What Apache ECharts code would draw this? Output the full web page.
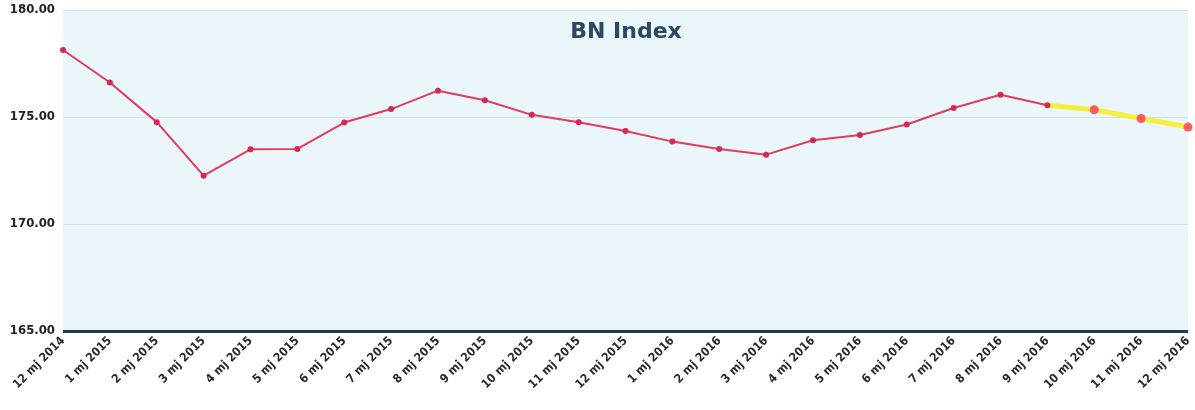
<!DOCTYPE html>
<html>
<head>
<meta charset="utf-8">
<script src="https://cdn.jsdelivr.net/npm/echarts@6/dist/echarts.min.js"></script>
<style>
html,body{margin:0;padding:0;background:#fff;}
#chart{width:1195px;height:410px;}
</style>
</head>
<body>
<div id="chart"></div>
<script>
const categories = ["12 mj 2014","1 mj 2015","2 mj 2015","3 mj 2015","4 mj 2015","5 mj 2015","6 mj 2015","7 mj 2015","8 mj 2015","9 mj 2015","10 mj 2015","11 mj 2015","12 mj 2015","1 mj 2016","2 mj 2016","3 mj 2016","4 mj 2016","5 mj 2016","6 mj 2016","7 mj 2016","8 mj 2016","9 mj 2016","10 mj 2016","11 mj 2016","12 mj 2016"];
const actualValues = [178.13,176.61,174.76,172.26,173.49,173.51,174.74,175.37,176.23,175.78,175.10,174.75,174.35,173.85,173.50,173.24,173.91,174.16,174.65,175.42,176.04,175.55];
const forecastValues = [175.55,175.34,174.93,174.53];
const yTicks = [165,170,175,180];

const forecastStart = actualValues.length - 1;
const actualData = actualValues.slice();
const forecastData = categories.map((c,i)=>{
  if (i < forecastStart) return '-';
  const v = forecastValues[i - forecastStart];
  if (i === forecastStart) return {value: v, symbol: 'none'};
  return v;
});

const chart = echarts.init(document.getElementById('chart'));
chart.setOption({
  animation: false,
  backgroundColor: '#ffffff',
  title: {
    text: 'BN Index',
    left: 621, top: 16, textAlign: 'center',
    textStyle: {color: '#2b4864', fontSize: 22, fontWeight: 'bold', fontFamily: 'DejaVu Sans'}
  },
  grid: {left: 63, right: 7, top: 10, bottom: 79, backgroundColor: '#ebf6fb', show: true, borderWidth: 0},
  xAxis: {
    type: 'category', data: categories, boundaryGap: false,
    axisLine: {show: false},
    axisTick: {show: false},
    axisLabel: {rotate: 45, color: '#2a2a2a', fontSize: 12, fontWeight: 'bold', fontFamily: 'DejaVu Sans Condensed', margin: 8, interval: 0}
  },
  yAxis: {
    type: 'value', min: yTicks[0], max: yTicks[yTicks.length-1], interval: 5,
    axisLine: {show: false}, axisTick: {show: false},
    axisLabel: {color: '#222', fontSize: 13, fontWeight: 'bold', fontFamily: 'DejaVu Sans Condensed', margin: 8, formatter: v => v.toFixed(2)},
    splitLine: {show: true, lineStyle: {color: '#d3e2ea', width: 1}}
  },
  series: [
    {
      type: 'line', data: forecastData, z: 2,
      lineStyle: {color: '#f4ef3e', width: 5},
      itemStyle: {color: '#ff5b5b'},
      symbol: 'circle', symbolSize: 9, showAllSymbol: true
    },
    {
      type: 'line', data: actualData, z: 3,
      lineStyle: {color: '#e33a5f', width: 2},
      itemStyle: {color: '#d8284f'},
      symbol: 'circle', symbolSize: 6, showAllSymbol: true
    },
    {
      type: 'line', data: [], z: 4,
      markLine: {
        silent: true, symbol: 'none', label: {show: false},
        lineStyle: {color: '#1f3b55', width: 3, type: 'solid'},
        data: [[{coord: [0, 165]}, {coord: [categories.length-1, 165]}]]
      }
    }
  ]
});
</script>
</body>
</html>
